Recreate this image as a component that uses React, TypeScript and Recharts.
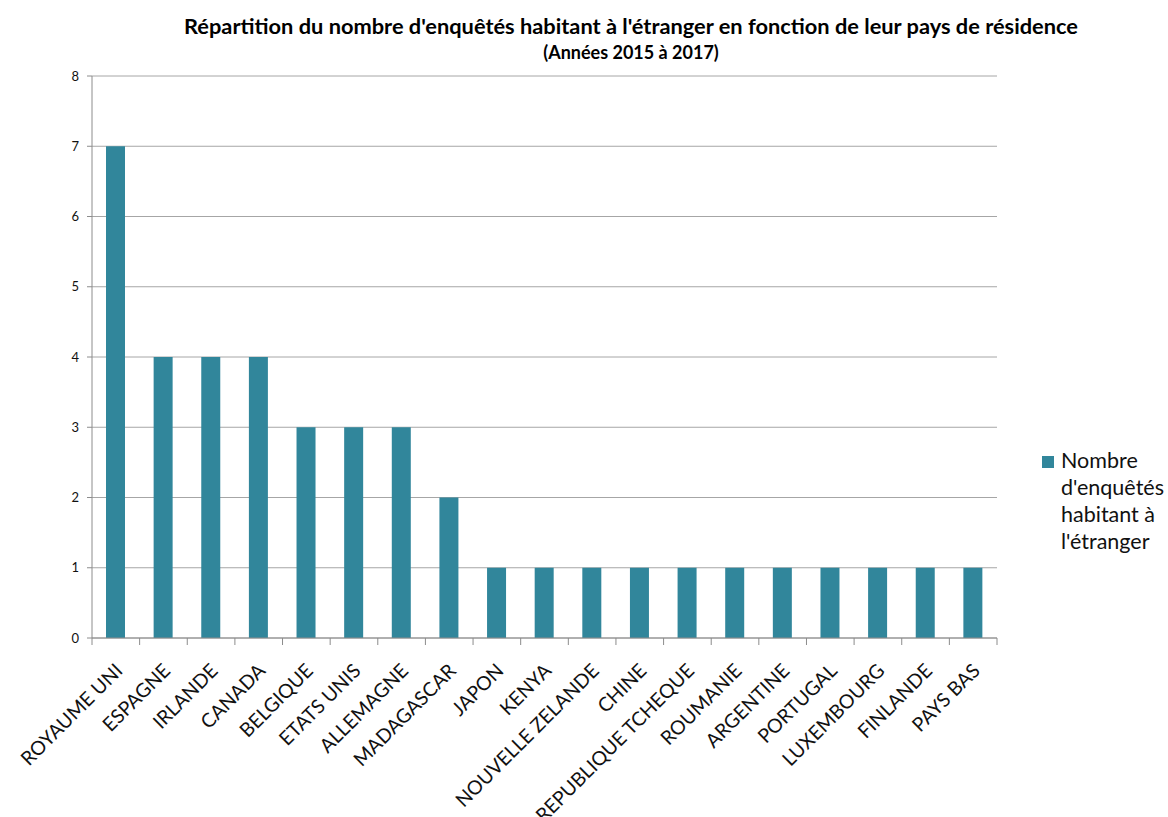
import { BarChart, Bar, XAxis, YAxis, CartesianGrid } from "recharts"

const pays = [
  "ROYAUME UNI",
  "ESPAGNE",
  "IRLANDE",
  "CANADA",
  "BELGIQUE",
  "ETATS UNIS",
  "ALLEMAGNE",
  "MADAGASCAR",
  "JAPON",
  "KENYA",
  "NOUVELLE ZELANDE",
  "CHINE",
  "REPUBLIQUE TCHEQUE",
  "ROUMANIE",
  "ARGENTINE",
  "PORTUGAL",
  "LUXEMBOURG",
  "FINLANDE",
  "PAYS BAS",
]
const enquetes = [7, 4, 4, 4, 3, 3, 3, 2, 1, 1, 1, 1, 1, 1, 1, 1, 1, 1, 1]
const yTicks = [0, 1, 2, 3, 4, 5, 6, 7, 8]

const chartData = pays.map((p, i) => ({ pays: p, valeur: enquetes[i] }))

const FONT = "Lato, 'Open Sans', sans-serif"
const BAR_COLOR = "#31869b"
const PLOT_LEFT = 92
const PLOT_RIGHT = 997
const BAND = (PLOT_RIGHT - PLOT_LEFT) / pays.length

// category label + boundary tick marks, Excel style
function PaysTick(props: any) {
  const { x, y, payload, index } = props
  const left = x - BAND / 2
  const right = x + BAND / 2
  const ax = x + 8
  const ay = y + 26
  return (
    <g>
      <line x1={left} y1={y - 8} x2={left} y2={y - 1} stroke="#8c8c8c" />
      {index === pays.length - 1 && (
        <line x1={right} y1={y - 8} x2={right} y2={y - 1} stroke="#8c8c8c" />
      )}
      <text
        x={ax}
        y={ay}
        textAnchor="end"
        fontSize={19.5}
        fontFamily={FONT}
        fill="#111"
        transform={`rotate(-45 ${ax} ${ay})`}
      >
        {payload.value}
      </text>
    </g>
  )
}

function Legende() {
  return (
    <div
      style={{
        position: "absolute",
        left: 1042,
        top: 447,
        display: "flex",
        fontFamily: FONT,
        fontSize: 21.5,
        color: "#111",
        lineHeight: "27px",
      }}
    >
      <div style={{ width: 12, height: 12, background: BAR_COLOR, marginTop: 9, marginRight: 7, flexShrink: 0 }} />
      <div>
        Nombre
        <br />
        d'enquêtés
        <br />
        habitant à
        <br />
        l'étranger
      </div>
    </div>
  )
}

export default function App() {
  return (
    <div style={{ position: "absolute", left: 0, top: 0, width: 1168, height: 817, background: "#fff" }}>
      <div
        style={{
          position: "absolute",
          left: 0,
          width: 1262,
          top: 12,
          textAlign: "center",
          fontFamily: FONT,
          fontWeight: 700,
          fontSize: 21.8,
          color: "#000",
        }}
      >
        Répartition du nombre d'enquêtés habitant à l'étranger en fonction de leur pays de résidence
      </div>
      <div
        style={{
          position: "absolute",
          left: 0,
          width: 1262,
          top: 41,
          textAlign: "center",
          fontFamily: FONT,
          fontWeight: 700,
          fontSize: 18,
          color: "#000",
        }}
      >
        (Années 2015 à 2017)
      </div>
      <BarChart
        width={1168}
        height={817}
        data={chartData}
        margin={{ top: 76, right: 1168 - PLOT_RIGHT, bottom: 0, left: 52 }}
        style={{ position: "absolute", left: 0, top: 0 }}
      >
        <CartesianGrid vertical={false} stroke="#a6a6a6" />
        <XAxis
          dataKey="pays"
          interval={0}
          height={179}
          axisLine={{ stroke: "#8c8c8c" }}
          tickLine={false}
          tick={<PaysTick />}
        />
        <YAxis
          width={40}
          domain={[0, 8]}
          ticks={yTicks}
          interval={0}
          axisLine={{ stroke: "#8c8c8c" }}
          tickLine={{ stroke: "#8c8c8c" }}
          tickSize={5}
          tickMargin={8}
          tick={{ fontSize: 13, fontFamily: FONT, fill: "#111" }}
        />
        <Bar dataKey="valeur" fill={BAR_COLOR} barSize={19} isAnimationActive={false} />
      </BarChart>
      <Legende />
    </div>
  )
}
